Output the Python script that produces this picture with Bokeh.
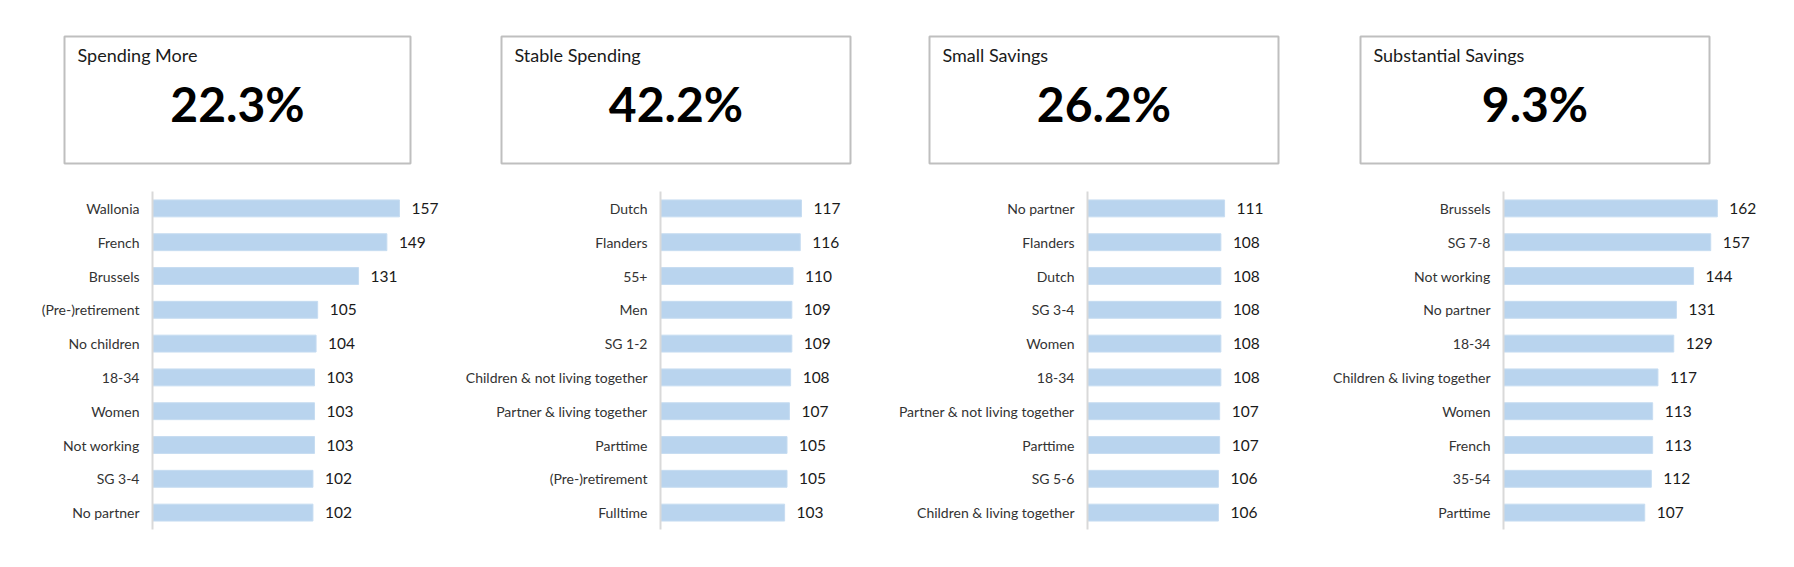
from bokeh.plotting import figure
from bokeh.models import Range1d, FactorRange, Label, ColumnDataSource
from bokeh.layouts import row, column
from bokeh.embed import file_html
from bokeh.resources import INLINE
from bokeh.core.properties import value

# ---------------- data ----------------
titles = ["Spending More", "Stable Spending", "Small Savings", "Substantial Savings"]
shares = ["22.3%", "42.2%", "26.2%", "9.3%"]

cats_spending_more = ["Wallonia", "French", "Brussels", "(Pre-)retirement", "No children",
                      "18-34", "Women", "Not working", "SG 3-4", "No partner"]
vals_spending_more = [157, 149, 131, 105, 104, 103, 103, 103, 102, 102]

cats_stable = ["Dutch", "Flanders", "55+", "Men", "SG 1-2", "Children & not living together",
               "Partner & living together", "Parttime", "(Pre-)retirement", "Fulltime"]
vals_stable = [117, 116, 110, 109, 109, 108, 107, 105, 105, 103]

cats_small = ["No partner", "Flanders", "Dutch", "SG 3-4", "Women", "18-34",
              "Partner & not living together", "Parttime", "SG 5-6", "Children & living together"]
vals_small = [111, 108, 108, 108, 108, 108, 107, 107, 106, 106]

cats_substantial = ["Brussels", "SG 7-8", "Not working", "No partner", "18-34",
                    "Children & living together", "Women", "French", "35-54", "Parttime"]
vals_substantial = [162, 157, 144, 131, 129, 117, 113, 113, 112, 107]

all_cats = [cats_spending_more, cats_stable, cats_small, cats_substantial]
all_vals = [vals_spending_more, vals_stable, vals_small, vals_substantial]

# ---------------- layout / style ----------------
FONT = "Lato"
BAR_COLOR = "#B9D4EE"
col_w = [458, 430, 430, 476]
axis_left = [152, 202, 199, 185]
px_per_unit = [1.573, 1.205, 1.235, 1.32]
box_lr = [(64, 48), (43, 38), (41, 40), (42, 85)]
BOX_H = 178
BAR_H = 389

boxes = []
bars = []
for i in range(4):
    w = col_w[i]
    l, r = box_lr[i]
    b = figure(width=w, height=BOX_H, x_range=Range1d(0, 1), y_range=Range1d(0, 1),
               min_border_left=l, min_border_right=r, min_border_top=36, min_border_bottom=15,
               x_axis_location=None, y_axis_location=None,
               outline_line_color="#BFBFBF", outline_line_width=2,
               toolbar_location=None, output_backend="svg")
    b.grid.visible = False
    b.add_layout(Label(x=0, y=1 - 18 / 127, x_offset=13, text=titles[i], text_font=FONT,
                       text_font_size="18px", text_baseline="middle", text_color="#1a1a1a"))
    b.add_layout(Label(x=0.5, y=1 - 67 / 127, text=shares[i], text_font=FONT,
                       text_font_size="48px", text_font_style="bold", text_align="center",
                       text_baseline="middle", text_color="#000000"))
    boxes.append(b)

    cats = all_cats[i]
    vals = all_vals[i]
    src = ColumnDataSource(dict(cat=cats, val=vals, lab=[str(v) for v in vals]))
    xmax = (w - axis_left[i]) / px_per_unit[i]
    p = figure(width=w, height=BAR_H, y_range=FactorRange(*list(reversed(cats))),
               x_range=Range1d(0, xmax),
               min_border_left=axis_left[i], min_border_right=0,
               min_border_top=13, min_border_bottom=38,
               x_axis_location=None, outline_line_color=None,
               toolbar_location=None, output_backend="svg")
    p.grid.visible = False
    p.hbar(y="cat", right="val", left=0, height=0.5, source=src,
           fill_color=BAR_COLOR, line_color="#C6DCF1", line_width=1)
    p.text(x="val", y="cat", text="lab", source=src, x_offset=12,
           text_baseline="middle", text_align="left",
           text_font=value(FONT), text_font_size="15.5px", text_color="#1a1a1a")
    ax = p.yaxis[0]
    ax.axis_line_color = "#D9D9D9"
    ax.axis_line_width = 2
    ax.major_tick_line_color = None
    ax.minor_tick_line_color = None
    ax.major_tick_out = 0
    ax.major_label_standoff = 13
    ax.major_label_text_font = FONT
    ax.major_label_text_font_size = "14px"
    ax.major_label_text_color = "#333333"
    bars.append(p)

layout = column(row(*boxes, spacing=0), row(*bars, spacing=0), spacing=0)

with open("out.html", "w") as f:
    f.write(file_html(layout, INLINE))
